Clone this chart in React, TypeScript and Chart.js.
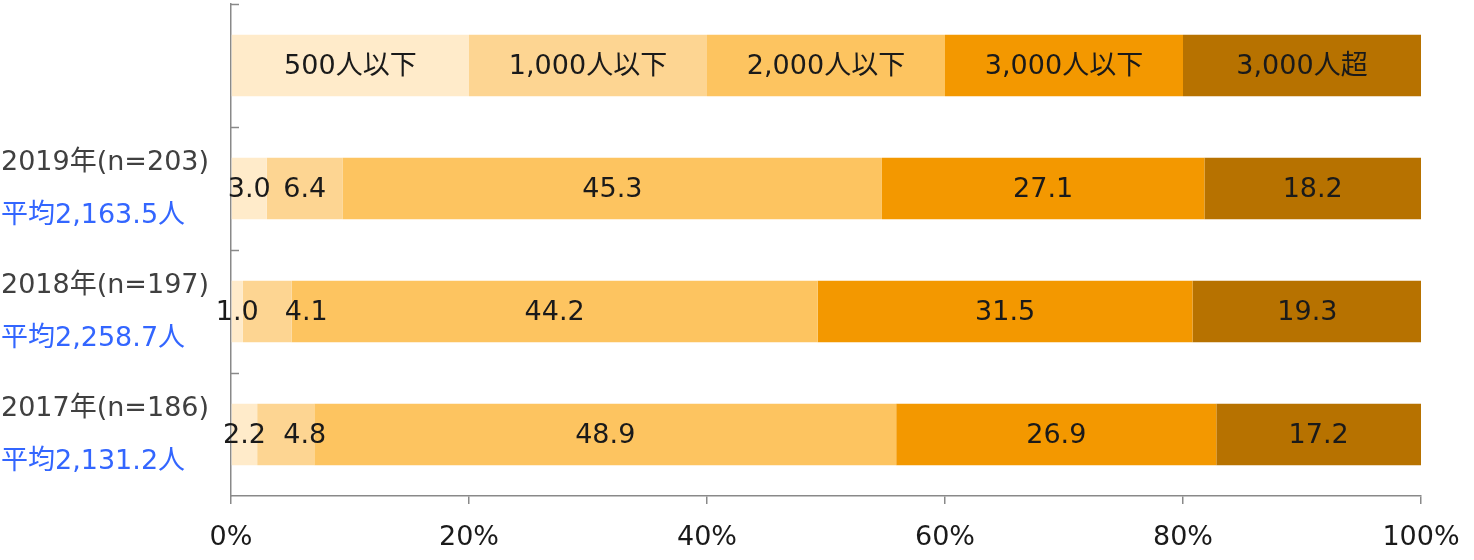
import React, { useEffect, useRef } from "react";
import { Chart, registerables } from "chart.js";

Chart.register(...registerables);

const categories = ["", "2019年(n=203)", "2018年(n=197)", "2017年(n=186)"];
const averages = ["", "平均2,163.5人", "平均2,258.7人", "平均2,131.2人"];
const seriesLabels = ["500人以下", "1,000人以下", "2,000人以下", "3,000人以下", "3,000人超"];
const under500 = [20, 3.0, 1.0, 2.2];
const under1000 = [20, 6.4, 4.1, 4.8];
const under2000 = [20, 45.3, 44.2, 48.9];
const under3000 = [20, 27.1, 31.5, 26.9];
const over3000 = [20, 18.2, 19.3, 17.2];
const xTicks = [0, 20, 40, 60, 80, 100];

const seriesColors = ["#FFEBCA", "#FDD592", "#FDC460", "#F39800", "#B77200"];
const FONT = "'DejaVu Sans', 'Noto Sans CJK JP', sans-serif";
const AXIS = "#898989";
const FS = 27;
// label nudges (pixels) for crowded small segments: key = "dataset-index"
const labelNudge: Record<string, number> = { "1-2": 39, "1-3": 19 };

const overlayPlugin = {
  id: "overlay",
  afterDatasetsDraw(chart: any) {
    const ctx = chart.ctx;
    ctx.save();
    ctx.font = `${FS}px ${FONT}`;
    ctx.fillStyle = "#1a1a1a";
    ctx.textAlign = "center";
    ctx.textBaseline = "middle";
    chart.data.datasets.forEach((ds: any, d: number) => {
      const meta = chart.getDatasetMeta(d);
      meta.data.forEach((el: any, i: number) => {
        const cx = (el.x + el.base) / 2 + (labelNudge[`${d}-${i}`] || 0);
        const txt = i === 0 ? ds.label : Number(ds.data[i]).toFixed(1);
        ctx.fillText(txt, cx, el.y + 1);
      });
    });
    ctx.restore();
  },
  afterDraw(chart: any) {
    const ctx = chart.ctx;
    const y = chart.scales.y;
    const n = chart.data.labels.length;
    ctx.save();
    ctx.strokeStyle = AXIS;
    ctx.lineWidth = 1.5;
    const step = (y.bottom - y.top) / n;
    for (let i = 0; i < n; i++) {
      const py = Math.round(y.top + i * step) + 0.5;
      ctx.beginPath();
      ctx.moveTo(y.right, py);
      ctx.lineTo(y.right + 8, py);
      ctx.stroke();
    }
    ctx.font = `${FS}px ${FONT}`;
    ctx.textAlign = "left";
    ctx.textBaseline = "middle";
    for (let i = 0; i < n; i++) {
      const cy = y.getPixelForValue(i);
      if (categories[i]) {
        ctx.fillStyle = "#404040";
        ctx.fillText(categories[i], 1, cy - 26);
      }
      if (averages[i]) {
        ctx.fillStyle = "#3366FF";
        ctx.fillText(averages[i], 1, cy + 27);
      }
    }
    ctx.restore();
  },
};

export default function App() {
  const ref = useRef<HTMLCanvasElement>(null);
  useEffect(() => {
    const series = [under500, under1000, under2000, under3000, over3000];
    const chart = new Chart(ref.current!, {
      type: "bar",
      data: {
        labels: categories,
        datasets: series.map((data, k) => ({
          label: seriesLabels[k],
          data,
          backgroundColor: seriesColors[k],
          borderWidth: 0,
          barPercentage: 0.5,
          categoryPercentage: 1,
        })),
      },
      options: {
        indexAxis: "y",
        animation: false,
        responsive: false,
        maintainAspectRatio: false,
        layout: { padding: { left: 231, right: 53, top: 4, bottom: 0 } },
        plugins: { legend: { display: false }, tooltip: { enabled: false } },
        scales: {
          x: {
            stacked: true,
            min: 0,
            max: 100,
            afterBuildTicks: (scale: any) => {
              scale.ticks = xTicks.map((v) => ({ value: v }));
            },
            afterFit: (scale: any) => {
              scale.height = 64;
              scale.paddingLeft = 0;
              scale.paddingRight = 0;
            },
            ticks: {
              callback: (v: any) => v + "%",
              color: "#1a1a1a",
              font: { family: FONT, size: FS },
              padding: 18,
              maxRotation: 0,
            },
            grid: {
              display: true,
              drawOnChartArea: false,
              drawTicks: true,
              tickLength: 8,
              color: AXIS,
              lineWidth: 1.5,
            },
            border: { display: true, color: AXIS, width: 1.5 },
          },
          y: {
            stacked: true,
            afterFit: (scale: any) => {
              scale.width = 0;
            },
            ticks: { display: false },
            grid: { display: false },
            border: { display: true, color: AXIS, width: 1.5 },
          },
        },
      },
      plugins: [overlayPlugin],
    });
    return () => chart.destroy();
  }, []);
  return (
    <div style={{ position: "absolute", left: 0, top: 0, width: 1474, height: 560, background: "#fff" }}>
      <canvas ref={ref} width={1474} height={560} />
    </div>
  );
}
